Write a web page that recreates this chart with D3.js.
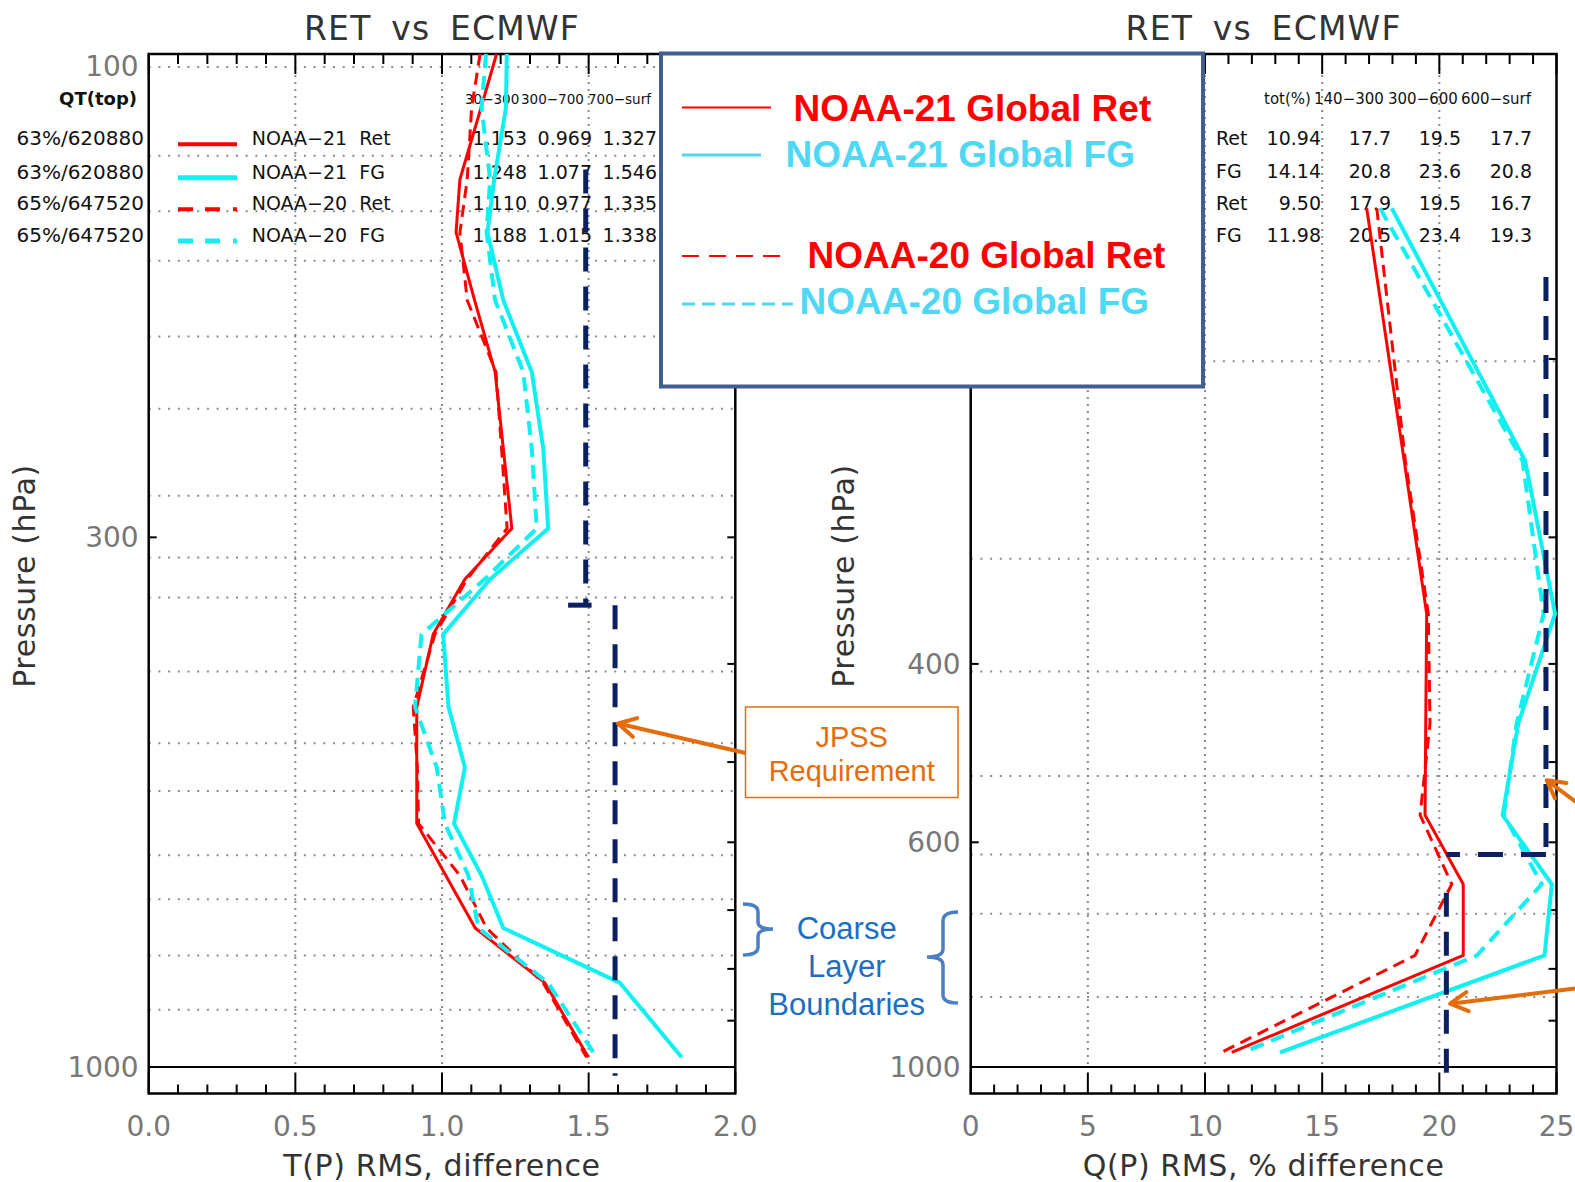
<!DOCTYPE html>
<html>
<head>
<meta charset="utf-8">
<script src="https://cdn.jsdelivr.net/npm/d3@7"></script>
<style>
  body { margin: 0; background: #fff; }
  svg { display: block; }
  text { white-space: pre; }
</style>
</head>
<body>
<div id="chart"></div>
<script>
// ---- data ----
// temperature panel: pressure levels (hPa) and RMS (K)
const tLevels  = [100, 113, 133, 150, 175, 206, 245, 294, 330, 374, 441, 506, 575, 647, 729, 826, 978];
const tN21Ret  = [1.186, 1.133, 1.061, 1.048, 1.111, 1.181, 1.209, 1.238, 1.078, 0.970, 0.914, 0.914, 0.914, 1.013, 1.113, 1.351, 1.499];
const tN21FG   = [1.221, 1.218, 1.178, 1.155, 1.209, 1.306, 1.345, 1.362, 1.164, 1.004, 1.022, 1.078, 1.041, 1.135, 1.209, 1.607, 1.817];
const tN20Ret  = [1.130, 1.101, 1.086, 1.061, 1.086, 1.184, 1.203, 1.222, 1.085, 0.976, 0.902, 0.916, 0.920, 1.061, 1.152, 1.345, 1.493];
const tN20FG   = [1.150, 1.135, 1.164, 1.152, 1.181, 1.277, 1.306, 1.323, 1.145, 0.930, 0.908, 0.982, 1.010, 1.090, 1.124, 1.362, 1.527];

// water vapour panel: pressure levels (hPa) and RMS (%)
const qLevels  = [142, 252, 357, 458, 564, 660, 776, 967];
const qN21Ret  = [16.9, 18.5, 19.46, 19.42, 19.39, 21.02, 21.02, 11.14];
const qN21FG   = [17.97, 23.66, 24.94, 23.37, 22.7, 24.8, 24.49, 13.2];
const qN20Ret  = [17.33, 18.55, 19.53, 19.6, 19.18, 20.53, 18.96, 10.71];
const qN20FG   = [17.47, 23.55, 24.45, 23.3, 22.75, 24.37, 21.6, 11.64];

// JPSS requirement steps (value, top hPa, bottom hPa)
const reqT = [[1.49, 130, 350], [1.59, 350, 1020]];
const reqQ = [[24.55, 166, 617], [20.3, 673, 1020]];

// dotted horizontal grid pressures
const tGrid = [103, 126, 143, 160, 190, 224, 273, 314, 344, 407, 479, 534, 618, 683, 776, 878];
const qGrid = [201, 315, 407, 516, 617, 706, 853];

// axis ticks
const tTicks = [0.0, 0.5, 1.0, 1.5, 2.0];
const qTicks = [0, 5, 10, 15, 20, 25];
const tPLabels = [100, 300, 1000];
const qPLabels = [200, 400, 600, 1000];
const pTicks = [100, 200, 300, 400, 500, 600, 700, 800, 900, 1000];

// in-plot tables
const tSample = ['63%/620880', '63%/620880', '65%/647520', '65%/647520'];
const seriesNames = ['NOAA\u221221  Ret', 'NOAA\u221221  FG', 'NOAA\u221220  Ret', 'NOAA\u221220  FG'];
const tHeader = ['30\u2212300', '300\u2212700', '700\u2212surf'];
const tTable = [
  ['1.153', '0.969', '1.327'],
  ['1.248', '1.077', '1.546'],
  ['1.110', '0.977', '1.335'],
  ['1.188', '1.015', '1.338']
];
const qHeader = ['tot(%)', '140\u2212300', '300\u2212600', '600\u2212surf'];
const qRowLabels = ['Ret', 'FG', 'Ret', 'FG'];
const qTable = [
  ['10.94', '17.7', '19.5', '17.7'],
  ['14.14', '20.8', '23.6', '20.8'],
  ['9.50', '17.9', '19.5', '16.7'],
  ['11.98', '20.5', '23.4', '19.3']
];
const legendLabels = ['NOAA-21 Global Ret', 'NOAA-21 Global FG', 'NOAA-20 Global Ret', 'NOAA-20 Global FG'];

// ---- setup ----
const W = 1575, H = 1182;
const RED = '#ff0000', CYAN = '#10f0f0', NAVY = '#0b2060', ORANGE = '#e46c0a';
const IDL = '"DejaVu Sans", sans-serif';
const ARIAL = '"Liberation Sans", Arial, sans-serif';

const svg = d3.select('#chart').append('svg')
  .attr('width', W).attr('height', H)
  .attr('viewBox', [0, 0, W, H]);

const yP = d3.scaleLog().domain([100, 1062]).range([54, 1093.5]);
const xT = d3.scaleLinear().domain([0, 2]).range([148.7, 735.3]);
const xQ = d3.scaleLinear().domain([0, 25]).range([970.7, 1556.5]);

const styles = [
  { color: RED,  width: 3, dash: null },
  { color: CYAN, width: 4, dash: null },
  { color: RED,  width: 3, dash: '12,7' },
  { color: CYAN, width: 4, dash: '14,8' }
];

function drawPanel(x, opts) {
  const g = svg.append('g');
  const [x0, x1] = x.range();
  const yTop = yP.range()[0], yBot = yP.range()[1];

  // grid
  g.selectAll('.hgrid').data(opts.grid).join('line')
    .attr('x1', x0).attr('x2', x1)
    .attr('y1', d => yP(d)).attr('y2', d => yP(d))
    .attr('stroke', '#8a8a8a').attr('stroke-width', 2)
    .attr('stroke-dasharray', '2,7.7');
  g.selectAll('.vgrid').data(opts.ticks.slice(1, -1)).join('line')
    .attr('x1', d => x(d)).attr('x2', d => x(d))
    .attr('y1', yTop).attr('y2', yP(1000))
    .attr('stroke', '#8a8a8a').attr('stroke-width', 2)
    .attr('stroke-dasharray', '2,5');

  // 1000 hPa line
  g.append('line')
    .attr('x1', x0).attr('x2', x1)
    .attr('y1', yP(1000)).attr('y2', yP(1000))
    .attr('stroke', '#000').attr('stroke-width', 2);

  // x ticks top and bottom
  const minor = d3.range(opts.domain[0], opts.domain[1] + 1e-9, opts.minorStep);
  const isMajor = v => opts.ticks.some(t => Math.abs(t - v) < 1e-6);
  g.selectAll('.xtb').data(minor).join('line')
    .attr('x1', d => x(d)).attr('x2', d => x(d))
    .attr('y1', yBot).attr('y2', d => yBot - (isMajor(d) ? 21 : 9))
    .attr('stroke', '#000').attr('stroke-width', 2);
  g.selectAll('.xtt').data(minor).join('line')
    .attr('x1', d => x(d)).attr('x2', d => x(d))
    .attr('y1', yTop).attr('y2', d => yTop + (isMajor(d) ? 20 : 10))
    .attr('stroke', '#000').attr('stroke-width', 2);

  // y ticks
  g.selectAll('.ytr').data(pTicks).join('line')
    .attr('x1', x1).attr('x2', x1 - 8)
    .attr('y1', d => yP(d)).attr('y2', d => yP(d))
    .attr('stroke', '#000').attr('stroke-width', 2);
  g.selectAll('.ytl').data(opts.pLabels).join('line')
    .attr('x1', x0).attr('x2', x0 + 8)
    .attr('y1', d => yP(d)).attr('y2', d => yP(d))
    .attr('stroke', '#000').attr('stroke-width', 2);

  // frame
  g.append('rect')
    .attr('x', x0).attr('y', yTop)
    .attr('width', x1 - x0).attr('height', yBot - yTop)
    .attr('fill', 'none').attr('stroke', '#000').attr('stroke-width', 2.5);

  // tick labels
  g.selectAll('.xl').data(opts.ticks).join('text')
    .attr('x', d => x(d)).attr('y', 1136)
    .attr('text-anchor', 'middle')
    .attr('font-family', IDL).attr('font-size', 28).attr('fill', '#777')
    .text(opts.fmt);
  g.selectAll('.yl').data(opts.pLabels).join('text')
    .attr('x', x0 - 10).attr('y', d => Math.max(yP(d), 66) + 10)
    .attr('text-anchor', 'end')
    .attr('font-family', IDL).attr('font-size', 28).attr('fill', '#777')
    .text(d => d);

  // titles
  const cx = (x0 + x1) / 2;
  g.append('text')
    .attr('x', cx).attr('y', 40)
    .attr('text-anchor', 'middle')
    .attr('font-family', IDL).attr('font-size', 33).attr('fill', '#333')
    .attr('letter-spacing', 1.2).attr('word-spacing', 8)
    .text('RET vs ECMWF');
  g.append('text')
    .attr('x', cx).attr('y', 1176)
    .attr('text-anchor', 'middle')
    .attr('font-family', IDL).attr('font-size', 30).attr('fill', '#333')
    .attr('letter-spacing', 0.6)
    .text(opts.xTitle);
  g.append('text')
    .attr('transform', `translate(${opts.pTitleX},576) rotate(-90)`)
    .attr('text-anchor', 'middle')
    .attr('font-family', IDL).attr('font-size', 30).attr('fill', '#333')
    .attr('letter-spacing', 0.6)
    .text('Pressure (hPa)');
  return g;
}

function drawCurves(x, levels, seriesList) {
  const line = d3.line().x(d => x(d[0])).y(d => yP(d[1]));
  svg.append('g').selectAll('path')
    .data(seriesList.map((vals, i) => ({ pts: vals.map((v, j) => [v, levels[j]]), s: styles[i] })))
    .join('path')
    .attr('d', d => line(d.pts))
    .attr('fill', 'none')
    .attr('stroke', d => d.s.color)
    .attr('stroke-width', d => d.s.width)
    .attr('stroke-dasharray', d => d.s.dash)
    .attr('stroke-linejoin', 'round');
}

function drawReq(x, req) {
  const g = svg.append('g');
  g.selectAll('line').data(req).join('line')
    .attr('x1', d => x(d[0])).attr('x2', d => x(d[0]))
    .attr('y1', d => yP(d[1])).attr('y2', d => yP(d[2]))
    .attr('stroke', NAVY).attr('stroke-width', 5)
    .attr('stroke-dasharray', '24,15');
  return g;
}

function arrow(g, x1, y1, x2, y2) {
  const a = Math.atan2(y1 - y2, x1 - x2), L = 20, s = 0.5;
  g.append('line').attr('x1', x1).attr('y1', y1).attr('x2', x2).attr('y2', y2)
    .attr('stroke', ORANGE).attr('stroke-width', 4);
  g.append('path')
    .attr('d', `M${x2 + L * Math.cos(a - s)},${y2 + L * Math.sin(a - s)}L${x2},${y2}L${x2 + L * Math.cos(a + s)},${y2 + L * Math.sin(a + s)}`)
    .attr('fill', 'none').attr('stroke', ORANGE).attr('stroke-width', 4)
    .attr('stroke-linecap', 'round').attr('stroke-linejoin', 'round');
}

// ---- left panel: temperature ----
drawPanel(xT, {
  grid: tGrid, ticks: tTicks, domain: [0, 2], minorStep: 0.1,
  pLabels: tPLabels, fmt: d3.format('.1f'),
  xTitle: 'T(P) RMS, difference', pTitleX: 35
});

const rowY = [138.3, 171.7, 203.3, 235];
const txt = svg.append('g').attr('font-family', IDL).attr('fill', '#111');
txt.append('text').attr('x', 137).attr('y', 105).attr('text-anchor', 'end')
  .attr('font-size', 18).attr('font-weight', 'bold').text('QT(top)');
txt.selectAll('.smp').data(tSample).join('text')
  .attr('x', 144).attr('y', (d, i) => rowY[i] + 7).attr('text-anchor', 'end')
  .attr('font-size', 20).text(d => d);
txt.selectAll('.nm').data(seriesNames).join('text')
  .attr('x', 251.7).attr('y', (d, i) => rowY[i] + 7)
  .attr('font-size', 19).text(d => d);
// column headers, packed tightly side by side
txt.selectAll('.hdr').data(tHeader).join('text')
  .attr('x', (d, i) => [465, 521, 588][i]).attr('y', 104)
  .attr('font-size', 13.5).text(d => d);
tTable.forEach((row, r) => {
  txt.selectAll(`.tv${r}`).data(row).join('text')
    .attr('x', (d, i) => [527, 592, 657][i]).attr('y', rowY[r] + 7)
    .attr('text-anchor', 'end').attr('font-size', 19).text(d => d);
});
// small legend line samples
svg.append('g').selectAll('line').data(styles).join('line')
  .attr('x1', 178).attr('x2', 237)
  .attr('y1', (d, i) => rowY[i] + 6).attr('y2', (d, i) => rowY[i] + 6)
  .attr('stroke', d => d.color)
  .attr('stroke-width', d => d.width + 1)
  .attr('stroke-dasharray', d => d.dash ? '15,12,15,13,4' : null);

drawCurves(xT, tLevels, [tN21Ret, tN21FG, tN20Ret, tN20FG]);
const rqT = drawReq(xT, reqT);
rqT.append('line')
  .attr('x1', xT(1.43)).attr('x2', xT(1.51))
  .attr('y1', yP(350)).attr('y2', yP(350))
  .attr('stroke', NAVY).attr('stroke-width', 5);

// ---- right panel: water vapour ----
drawPanel(xQ, {
  grid: qGrid, ticks: qTicks, domain: [0, 25], minorStep: 1,
  pLabels: qPLabels, fmt: d3.format('d'),
  xTitle: 'Q(P) RMS, % difference', pTitleX: 854
});

const qRowY = [137.6, 170.8, 203, 235];
const txq = svg.append('g').attr('font-family', IDL).attr('fill', '#111');
txq.selectAll('.hdr').data(qHeader).join('text')
  .attr('x', (d, i) => [1264, 1314, 1388, 1461][i]).attr('y', 104)
  .attr('font-size', 15).text(d => d);
txq.selectAll('.rl').data(qRowLabels).join('text')
  .attr('x', 1216).attr('y', (d, i) => qRowY[i] + 7)
  .attr('font-size', 19).text(d => d);
qTable.forEach((row, r) => {
  txq.selectAll(`.qv${r}`).data(row).join('text')
    .attr('x', (d, i) => [1321, 1391, 1461, 1532][i]).attr('y', qRowY[r] + 7)
    .attr('text-anchor', 'end').attr('font-size', 19).text(d => d);
});

drawCurves(xQ, qLevels, [qN21Ret, qN21FG, qN20Ret, qN20FG]);
const rqQ = drawReq(xQ, reqQ);
rqQ.append('line')
  .attr('x1', xQ(reqQ[0][0])).attr('x2', xQ(reqQ[1][0]))
  .attr('y1', yP(617)).attr('y2', yP(617))
  .attr('stroke', NAVY).attr('stroke-width', 5)
  .attr('stroke-dasharray', '25,18');

// ---- big legend box ----
const lg = svg.append('g');
lg.append('rect')
  .attr('x', 661).attr('y', 53.5).attr('width', 542).attr('height', 333)
  .attr('fill', '#fff').attr('stroke', '#3f5f8f').attr('stroke-width', 4);
const legendLines = [
  { x2: 771, y: 107.5, color: RED, w: 2, dash: null },
  { x2: 761, y: 155, color: '#4fd8f4', w: 3, dash: null },
  { x2: 780, y: 256, color: RED, w: 2, dash: '17,10' },
  { x2: 793, y: 304, color: '#4fd8f4', w: 3, dash: '13,7' }
];
lg.selectAll('line').data(legendLines).join('line')
  .attr('x1', 682).attr('x2', d => d.x2)
  .attr('y1', d => d.y).attr('y2', d => d.y)
  .attr('stroke', d => d.color).attr('stroke-width', d => d.w)
  .attr('stroke-dasharray', d => d.dash);
lg.selectAll('text').data(legendLabels).join('text')
  .attr('x', (d, i) => [793.5, 785.5, 807.6, 799.6][i])
  .attr('y', (d, i) => [121, 167, 267.5, 314][i])
  .attr('font-family', ARIAL).attr('font-weight', 'bold').attr('font-size', 37)
  .attr('fill', (d, i) => i % 2 ? '#4fd8f4' : RED)
  .text(d => d);

// ---- annotations ----
const an = svg.append('g');
an.append('rect')
  .attr('x', 745.5).attr('y', 707).attr('width', 212.5).attr('height', 90.5)
  .attr('fill', '#fff').attr('stroke', ORANGE).attr('stroke-width', 1.5);
an.selectAll('.jp').data(['JPSS', 'Requirement']).join('text')
  .attr('x', 851.7).attr('y', (d, i) => [747, 780.5][i])
  .attr('text-anchor', 'middle')
  .attr('font-family', ARIAL).attr('font-size', 29).attr('fill', ORANGE)
  .text(d => d);
arrow(an, 745.5, 753, xT(1.60), yP(458));
arrow(an, 1580, 805, xQ(24.58), yP(521));
arrow(an, 1580, 988, xQ(20.46), yP(866));

an.selectAll('.cl').data(['Coarse', 'Layer', 'Boundaries']).join('text')
  .attr('x', 846.7).attr('y', (d, i) => [938.5, 977, 1014.5][i])
  .attr('text-anchor', 'middle')
  .attr('font-family', ARIAL).attr('font-size', 31).attr('fill', '#1a6fc2')
  .text(d => d);
an.append('path')
  .attr('d', 'M743,904 Q758,904 758,912 L758,922 Q758,929 773,929 Q758,929 758,936 L758,947 Q758,955 743,955')
  .attr('fill', 'none').attr('stroke', '#4a7fc4').attr('stroke-width', 3.5);
an.append('path')
  .attr('d', 'M958,912 Q943,912 943,921 L943,949 Q943,957 927,957 Q943,957 943,965 L943,995 Q943,1003 958,1003')
  .attr('fill', 'none').attr('stroke', '#4a7fc4').attr('stroke-width', 3.5);
</script>
</body>
</html>
